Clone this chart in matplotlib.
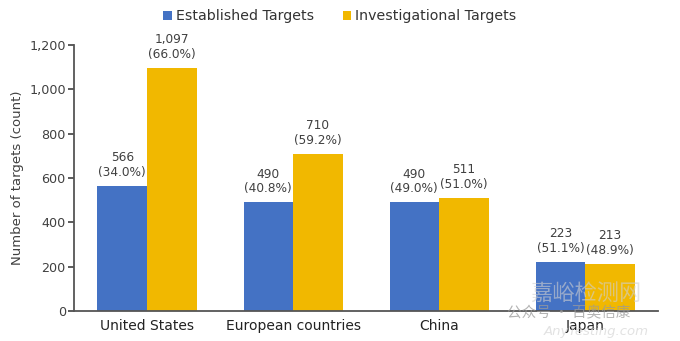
import numpy as np
from matplotlib import pyplot as plt

regions = ["United States", "European countries", "China", "Japan"]
established = [566, 490, 490, 223]
investigational = [1097, 710, 511, 213]
est_pct = [34.0, 40.8, 49.0, 51.1]
inv_pct = [66.0, 59.2, 51.0, 48.9]

blue = '#4472C4'
gold = '#F1B800'
grey = '#404040'

plt.rcParams['font.family'] = ['DejaVu Sans', 'Noto Sans CJK SC']

fig = plt.figure(figsize=(6.8, 3.41), dpi=100)
ax = fig.add_axes([0.109, 0.088, 0.859, 0.78])

x = np.arange(len(regions))
w = 0.34
b1 = ax.bar(x - w / 2, established, w, color=blue, label='Established Targets')
b2 = ax.bar(x + w / 2, investigational, w, color=gold, label='Investigational Targets')

# value + share labels above each bar
for bars, vals, pcts in ((b1, established, est_pct), (b2, investigational, inv_pct)):
    for bar, v, p in zip(bars, vals, pcts):
        ax.annotate(f"{v:,}\n({p:.1f}%)", (bar.get_x() + bar.get_width() / 2, v),
                    xytext=(0, 5), textcoords='offset points', ha='center', va='bottom',
                    fontsize=8.7, color=grey, linespacing=1.15, annotation_clip=False)

ax.set_xlim(-0.5, 3.5)
ax.set_ylim(0, 1200)
ax.set_yticks(range(0, 1201, 200))
ax.set_yticklabels([f"{t:,}" for t in range(0, 1201, 200)])
ax.set_xticks(x)
ax.set_xticklabels(regions)
ax.tick_params(axis='y', labelsize=9.2, colors=grey, length=4, width=1.2, pad=2)
ax.tick_params(axis='x', labelsize=10, colors='#222222', length=0, pad=6)
ax.set_ylabel("Number of targets (count)", fontsize=9.5, color=grey, labelpad=4)

for s in ('top', 'right'):
    ax.spines[s].set_visible(False)
for s in ('left', 'bottom'):
    ax.spines[s].set_color('#555555')
    ax.spines[s].set_linewidth(1.3)

fig.legend(handles=[b1, b2], loc='upper center', bbox_to_anchor=(0.50, 1.01), ncol=2,
           frameon=False, fontsize=10.2, handlelength=0.6, handleheight=0.6,
           handletextpad=0.3, columnspacing=2.0, labelcolor='#333333')

# faint site watermark
fig.text(0.78, 0.12, "嘉峪检测网", fontsize=16, color='#cfcfcf', alpha=0.6,
         family=['Noto Sans CJK SC'])
fig.text(0.745, 0.068, "公众号 · 百奥信康", fontsize=10.5, color='#9a9a9a', alpha=0.75,
         family=['Noto Sans CJK SC'])
fig.text(0.80, 0.018, "AnyTesting.com", fontsize=9.5, color='#cfcfcf', alpha=0.6,
         style='italic')

fig.savefig('out.png', dpi=100)
